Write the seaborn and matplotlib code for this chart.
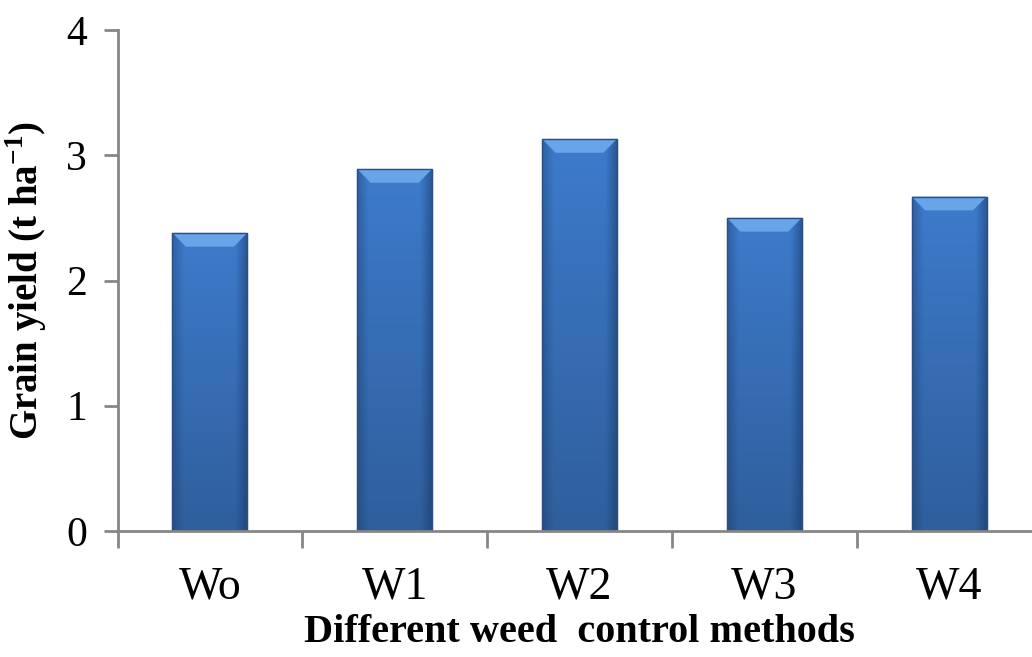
import numpy as np
import pandas as pd
import matplotlib
matplotlib.use("Agg")
import matplotlib.pyplot as plt
import seaborn as sns
from matplotlib.patches import Polygon
from matplotlib.colors import LinearSegmentedColormap

# Grain yield by weed control method
methods = ["Wo", "W1", "W2", "W3", "W4"]
grain_yield = [2.38, 2.89, 3.13, 2.50, 2.67]
y_ticks = [0, 1, 2, 3, 4]

df = pd.DataFrame({"method": methods, "yield": grain_yield})

sns.set_theme(style="white")
plt.rcParams["font.family"] = ["Liberation Serif", "DejaVu Serif"]
plt.rcParams["text.color"] = "black"
plt.rcParams["axes.labelcolor"] = "black"
plt.rcParams["xtick.color"] = "black"
plt.rcParams["ytick.color"] = "black"
plt.rcParams["axes.unicode_minus"] = False
plt.rcParams["mathtext.fontset"] = "custom"
plt.rcParams["mathtext.bf"] = "Liberation Serif:bold"
plt.rcParams["mathtext.rm"] = "Liberation Serif"

fig = plt.figure(figsize=(10.32, 6.57), dpi=100)
W, H = 1032, 657
left, bottom = 117.5 / W, (H - 531) / H
width = (1041.5 - 117.5) / W
height = (531 - 30) / H
ax = fig.add_axes([left, bottom, width, height])

sns.barplot(data=df, x="method", y="yield", color="#3A72BF", width=0.405,
            saturation=1, ax=ax, edgecolor="#2A4F80", linewidth=0.8)

ax.set_ylim(0, 4)
ax.set_xlim(-0.5, len(methods) - 0.5)
ax.set_yticks(y_ticks)
ax.set_yticklabels([str(t) for t in y_ticks], fontsize=30)

# Category labels centred on bars, tick marks between categories
ax.set_xticks(range(len(methods)))
ax.set_xticklabels(methods, fontsize=33)
ax.set_xticks(np.arange(-0.5, len(methods) + 0.5, 1), minor=True)
ax.tick_params(axis="x", which="major", length=0, pad=25)
ax.tick_params(axis="x", which="minor", length=12, width=2, color="#868686",
               direction="out", bottom=True)
ax.tick_params(axis="y", which="major", length=10, width=2, color="#868686",
               direction="out", left=True, pad=12)

for side in ["top", "right"]:
    ax.spines[side].set_visible(False)
for side in ["left", "bottom"]:
    ax.spines[side].set_color("#868686")
    ax.spines[side].set_linewidth(2)

ax.set_ylabel("Grain yield (t ha$^{\\mathbf{-1}}$)", fontsize=28,
              fontweight="bold", labelpad=12)
ax.set_xlabel("Different weed  control methods", fontsize=29,
              fontweight="bold", labelpad=4)

# Shaded fill and bevelled top for each bar
grad = LinearSegmentedColormap.from_list("bar", ["#2F5F9C", "#3D7BCB"])
for patch in ax.patches:
    x0, y0 = patch.get_x(), patch.get_y()
    w, h = patch.get_width(), patch.get_height()
    img = np.linspace(0, 1, 256).reshape(-1, 1)
    im = ax.imshow(img, extent=[x0, x0 + w, y0, y0 + h], origin="lower",
                   cmap=grad, aspect="auto", zorder=patch.get_zorder() + 0.1)
    im.set_clip_path(patch)
    # horizontal shading across the bar
    side = np.concatenate([np.linspace(0.35, 0, 40), np.zeros(176),
                           np.linspace(0, 0.45, 40)]).reshape(1, -1)
    ov = ax.imshow(np.dstack([np.full_like(side, 0.08), np.full_like(side, 0.18),
                              np.full_like(side, 0.35), side]),
                   extent=[x0, x0 + w, y0, y0 + h], aspect="auto",
                   zorder=patch.get_zorder() + 0.2)
    ov.set_clip_path(patch)
    bev = 0.11
    inset = w * 0.18
    top = Polygon([[x0, y0 + h], [x0 + w, y0 + h],
                   [x0 + w - inset, y0 + h - bev], [x0 + inset, y0 + h - bev]],
                  closed=True, facecolor="#68A4EA", edgecolor="none",
                  zorder=patch.get_zorder() + 0.3)
    ax.add_patch(top)
    edge = Polygon([[x0, y0], [x0, y0 + h], [x0 + w, y0 + h], [x0 + w, y0]],
                   closed=False, fill=False, edgecolor="#2A4F80", linewidth=1.0,
                   zorder=patch.get_zorder() + 0.4)
    ax.add_patch(edge)

ax.set_xlim(-0.5, len(methods) - 0.5)
ax.set_ylim(0, 4)

fig.savefig("out.png", dpi=100)
